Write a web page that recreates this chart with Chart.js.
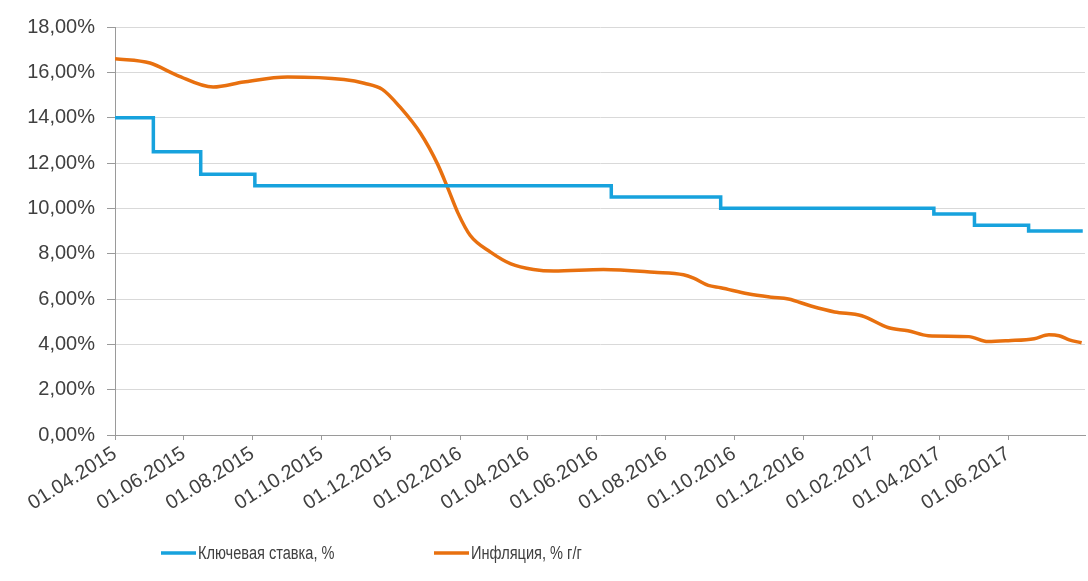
<!DOCTYPE html>
<html><head><meta charset="utf-8">
<script src="https://cdn.jsdelivr.net/npm/chart.js@4/dist/chart.umd.min.js"></script>
<style>html,body{margin:0;padding:0;background:#fff}#wrap{width:1088px;height:581px}</style>
</head><body><div id="wrap"><canvas id="c" width="1088" height="581"></canvas></div>
<script>
const seriesNames = ['Ключевая ставка, %', 'Инфляция, % г/г'];
const xTickLabels = ['01.04.2015','01.06.2015','01.08.2015','01.10.2015','01.12.2015','01.02.2016','01.04.2016','01.06.2016','01.08.2016','01.10.2016','01.12.2016','01.02.2017','01.04.2017','01.06.2017'];
const xStart = '01.04.2015';
const xEnd = '08.08.2017';
const keyRateDates = ['01.04.2015','05.05.2015','16.06.2015','03.08.2015','14.06.2016','19.09.2016','27.03.2017','02.05.2017','19.06.2017','06.08.2017'];
const keyRateValues = [14, 12.5, 11.5, 11, 10.5, 10, 9.75, 9.25, 9, 9];
const inflationDates = ['01.04.2015','02.05.2015','26.05.2015','27.06.2015','24.07.2015','01.09.2015','21.10.2015','08.11.2015','24.11.2015','10.12.2015','28.12.2015','12.01.2016','21.01.2016','30.01.2016','10.02.2016','28.02.2016','17.03.2016','06.04.2016','24.04.2016','07.06.2016','22.07.2016','17.08.2016','26.08.2016','08.09.2016','19.09.2016','13.10.2016','03.11.2016','18.11.2016','08.12.2016','29.12.2016','22.01.2017','15.02.2017','04.03.2017','22.03.2017','27.04.2017','14.05.2017','01.06.2017','24.06.2017','07.07.2017','16.07.2017','25.07.2017','05.08.2017'];
const inflationValues = [16.6,16.41,15.87,15.35,15.57,15.79,15.68,15.52,15.25,14.45,13.3,11.95,10.9,9.8,8.8,8.07,7.55,7.3,7.23,7.3,7.18,7.07,6.92,6.6,6.5,6.23,6.08,6.0,5.69,5.43,5.26,4.73,4.6,4.38,4.34,4.12,4.16,4.25,4.42,4.38,4.2,4.07];

function dayNum(s){const p=s.split('.').map(Number);return Date.UTC(p[2],p[1]-1,p[0])/86400000;}
const day0 = dayNum(xStart);
const toX = s => dayNum(s) - day0;

const FONT = '"Liberation Sans", Arial, sans-serif';
const customLegend = {
  id: 'customLegend',
  afterDraw(chart) {
    const ctx = chart.ctx;
    const pos = [161, 434];
    const y = 553;
    chart.data.datasets.forEach((ds, i) => {
      ctx.save();
      ctx.strokeStyle = ds.borderColor; ctx.lineWidth = 3.5;
      ctx.beginPath(); ctx.moveTo(pos[i], y); ctx.lineTo(pos[i] + 35, y); ctx.stroke();
      ctx.fillStyle = '#404040';
      ctx.font = '18px "Liberation Sans", sans-serif';
      ctx.textBaseline = 'middle'; ctx.textAlign = 'left';
      ctx.translate(pos[i] + 37, y + 1);
      ctx.scale(0.81, 1);
      ctx.fillText(ds.label, 0, 0);
      ctx.restore();
    });
  }
};

new Chart(document.getElementById('c'), {
  type: 'line',
  data: {
    datasets: [
      {label: seriesNames[0], data: keyRateDates.map((d,i)=>({x: toX(d), y: keyRateValues[i]})),
       borderColor: '#17a2dd', borderWidth: 3.5, stepped: 'before', pointRadius: 0, fill: false},
      {label: seriesNames[1], data: inflationDates.map((d,i)=>({x: toX(d), y: inflationValues[i]})),
       borderColor: '#e8700f', borderWidth: 3.5, cubicInterpolationMode: 'monotone', pointRadius: 0, fill: false}
    ]
  },
  options: {
    responsive: false, animation: false, devicePixelRatio: 1,
    layout: {padding: {top: 27, right: 3, left: 0, bottom: 0}},
    plugins: {legend: {display: false}, tooltip: {enabled: false}},
    scales: {
      x: {
        type: 'linear', min: 0, max: toX(xEnd),
        afterBuildTicks: s => { s.ticks = xTickLabels.map(l => ({value: toX(l)})); },
        afterFit: s => { s.height = 146; },
        grid: {drawOnChartArea: false, drawTicks: true, tickLength: 5, color: '#9a9a9a'},
        border: {color: '#9a9a9a', width: 1},
        ticks: {autoSkip: false, minRotation: 32, maxRotation: 32, padding: 2,
          color: '#404040', font: {family: FONT, size: 20},
          callback: (v, i) => xTickLabels[i]}
      },
      y: {
        min: 0, max: 18,
        afterFit: s => { s.width = 115; },
        grid: {color: '#d9d9d9', drawTicks: true, tickLength: 8, tickColor: '#9a9a9a'},
        border: {color: '#9a9a9a', width: 1},
        ticks: {stepSize: 2, padding: 12, color: '#404040', font: {family: FONT, size: 20},
          callback: v => v.toFixed(2).replace('.', ',') + '%'}
      }
    }
  },
  plugins: [customLegend]
});
</script></body></html>
